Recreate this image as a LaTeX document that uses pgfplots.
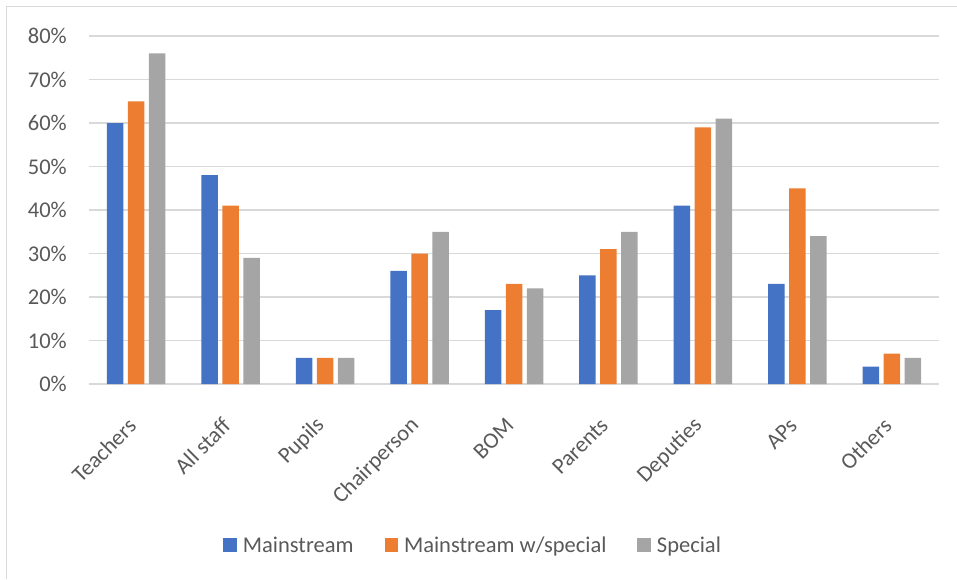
\documentclass[border=0pt]{standalone}
\usepackage{pgfplots}
\pgfplotsset{compat=1.18}
\usepackage{fontspec}
\setmainfont{Carlito}
\definecolor{cblue}{HTML}{4472C4}
\definecolor{corange}{HTML}{ED7D31}
\definecolor{cgray}{HTML}{A5A5A5}
\definecolor{gridc}{HTML}{D9D9D9}
\definecolor{txt}{HTML}{595959}
\begin{document}
\begin{tikzpicture}
\useasboundingbox (-89pt,-195pt) rectangle (868pt,384pt);
\draw[gridc, line width=1pt] (-82pt,-195pt) -- (-82pt,377pt) -- (868pt,377pt);
\begin{axis}[
  at={(0pt,0pt)}, anchor=south west,
  scale only axis, width=850pt, height=348pt,
  ybar=4.5pt, bar width=16.5pt,
  xmin=-0.5, xmax=8.5, ymin=0, ymax=80,
  xtick={0,1,2,3,4,5,6,7,8},
  xticklabels={Teachers,All staff,Pupils,Chairperson,BOM,Parents,Deputies,APs,Others},
  ytick={0,10,20,30,40,50,60,70,80},
  yticklabels={0\%,10\%,20\%,30\%,40\%,50\%,60\%,70\%,80\%},
  axis line style={draw=none}, major tick length=0pt,
  ymajorgrids, grid style={gridc, line width=1.3pt},
  tick label style={font=\fontsize{22.5}{27}\selectfont, text=txt},
  y tick label style={anchor=east, inner sep=0pt, xshift=-22pt},
  x tick label style={inner sep=0pt, xshift=-4pt, yshift=-38pt, rotate=45, anchor=east},
  legend style={at={(0.452,-0.463)}, anchor=center, draw=none, fill=none,
    legend columns=3, font=\fontsize{22.5}{27}\selectfont, text=txt,
    /tikz/every even column/.append style={column sep=29pt}},
  legend image code/.code={\fill[#1] (0pt,-6.5pt) rectangle (13.5pt,7pt); \path (0pt,0pt) (17.5pt,0pt);},
]
\addplot[fill=cblue, draw=none] coordinates {(0,60) (1,48) (2,6) (3,26) (4,17) (5,25) (6,41) (7,23) (8,4)};
\addplot[fill=corange, draw=none] coordinates {(0,65) (1,41) (2,6) (3,30) (4,23) (5,31) (6,59) (7,45) (8,7)};
\addplot[fill=cgray, draw=none] coordinates {(0,76) (1,29) (2,6) (3,35) (4,22) (5,35) (6,61) (7,34) (8,6)};
\legend{Mainstream,Mainstream w/special,Special}
\end{axis}
\end{tikzpicture}
\end{document}
